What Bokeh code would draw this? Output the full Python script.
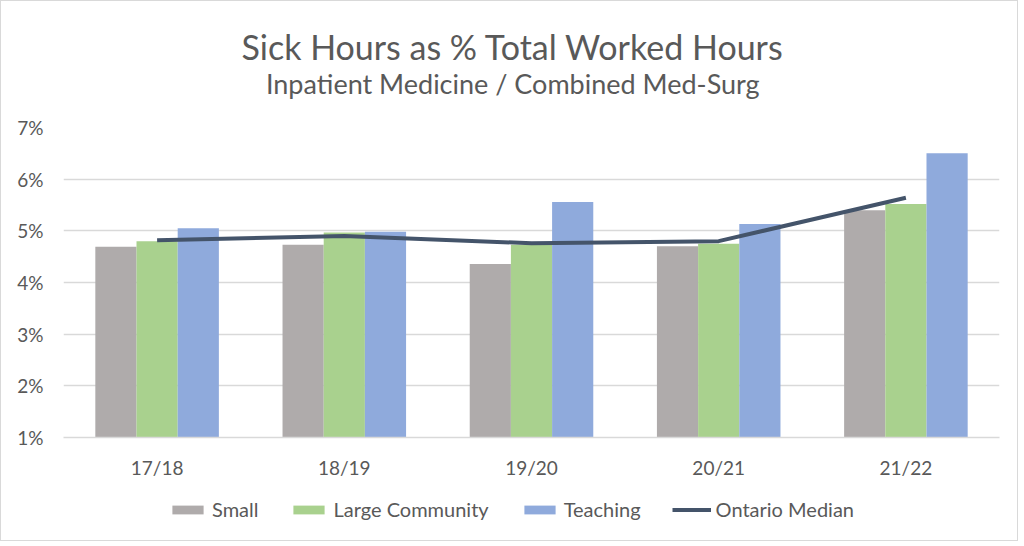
from bokeh.plotting import figure
from bokeh.layouts import column
from bokeh.models import FactorRange, Legend, LegendItem, FixedTicker
from bokeh.core.properties import value
from bokeh.transform import dodge
from bokeh.embed import file_html
from bokeh.resources import INLINE

years = ["17/18", "18/19", "19/20", "20/21", "21/22"]
small = [4.69, 4.73, 4.36, 4.70, 5.40]
large = [4.80, 4.97, 4.73, 4.75, 5.52]
teaching = [5.05, 4.98, 5.56, 5.13, 6.50]
median = [4.82, 4.90, 4.76, 4.80, 5.64]
yticks = [1, 2, 3, 4, 5, 6, 7]
names = ["Small", "Large Community", "Teaching", "Ontario Median"]
colors = ["#AFABAB", "#A9D18E", "#8FAADC", "#44546A"]

FONT = "Lato"
GREY = "#595959"
W = 1016
borders = dict(min_border_left=62, min_border_right=18)

data = dict(years=years, small=small, large=large, teaching=teaching, median=median)

# --- title block (frames line up with the chart below, so the text sits a bit left of frame centre) ---
t = figure(width=W, height=100, x_range=(0, 1), y_range=(0, 100),
           x_axis_location=None, y_axis_location=None,
           output_backend="svg", toolbar_location=None,
           min_border_top=0, min_border_bottom=0, **borders)
t.grid.visible = False
t.outline_line_color = None
t.text(x=[0.48], y=[55], text=["Sick Hours as % Total Worked Hours"],
       text_font=value(FONT), text_font_size="34px", text_color=GREY,
       text_align="center", text_baseline="middle")
t.text(x=[0.48], y=[18], text=["Inpatient Medicine / Combined Med-Surg"],
       text_font=value(FONT), text_font_size="27px", text_color=GREY,
       text_align="center", text_baseline="middle")

# --- main chart ---
p = figure(x_range=FactorRange(*years), y_range=(1, 7), width=W, height=390,
           output_backend="svg", toolbar_location=None,
           min_border_top=26, min_border_bottom=54, **borders)

p.vbar(x=dodge("years", -0.22, range=p.x_range), top="small", bottom=1, width=0.22,
       source=data, color=colors[0], line_color=None)
p.vbar(x=dodge("years", 0.0, range=p.x_range), top="large", bottom=1, width=0.22,
       source=data, color=colors[1], line_color=None)
p.vbar(x=dodge("years", 0.22, range=p.x_range), top="teaching", bottom=1, width=0.22,
       source=data, color=colors[2], line_color=None)
p.line(x="years", y="median", source=data, line_color=colors[3], line_width=4)

p.yaxis.ticker = FixedTicker(ticks=yticks)
p.yaxis.major_label_overrides = {t: f"{t}%" for t in yticks}
p.yaxis.axis_line_color = None
p.yaxis.major_tick_line_color = None
p.yaxis.minor_tick_line_color = None
p.yaxis.major_tick_out = 0
p.yaxis.major_label_standoff = 20
p.xaxis.axis_line_color = "#d9d9d9"
p.xaxis.axis_line_width = 1.5
p.xaxis.major_tick_line_color = None
p.xaxis.major_tick_out = 0
p.xaxis.major_label_standoff = 18
for ax in (p.xaxis, p.yaxis):
    ax.major_label_text_font = FONT
    ax.major_label_text_font_size = "19px"
    ax.major_label_text_color = GREY

p.xgrid.grid_line_color = None
p.ygrid.grid_line_color = "#d9d9d9"
p.ygrid.grid_line_width = 1.5
p.outline_line_color = None
p.x_range.range_padding = 0
p.x_range.group_padding = 0

# --- legend strip (same series, drawn outside its visible range) ---
lg = figure(width=W, height=49, x_range=FactorRange(*years), y_range=(0, 1),
            x_axis_location=None, y_axis_location=None,
            output_backend="svg", toolbar_location=None,
            min_border_top=0, min_border_bottom=0, **borders)
lg.grid.visible = False
lg.outline_line_color = None
items = []
for name, col, c in zip(names[:3], ["small", "large", "teaching"], colors[:3]):
    r = lg.vbar(x="years", top=col, bottom=1, width=0.22, source=data, color=c, line_color=None)
    items.append(LegendItem(label=name, renderers=[r]))
r = lg.line(x="years", y="median", source=data, line_color=colors[3], line_width=4)
items.append(LegendItem(label=names[3], renderers=[r]))

legend = Legend(items=items, orientation="horizontal", location=(105, 19),
                border_line_color=None, background_fill_alpha=0,
                label_text_font=FONT, label_text_font_size="20px", label_text_color=GREY,
                glyph_width=39, glyph_height=11, spacing=31, label_standoff=5,
                padding=0, margin=0)
lg.add_layout(legend)

layout = column(t, p, lg, spacing=0, styles={"border": "1px solid #d9d9d9"})
open("out.html", "w").write(file_html(layout, INLINE))
